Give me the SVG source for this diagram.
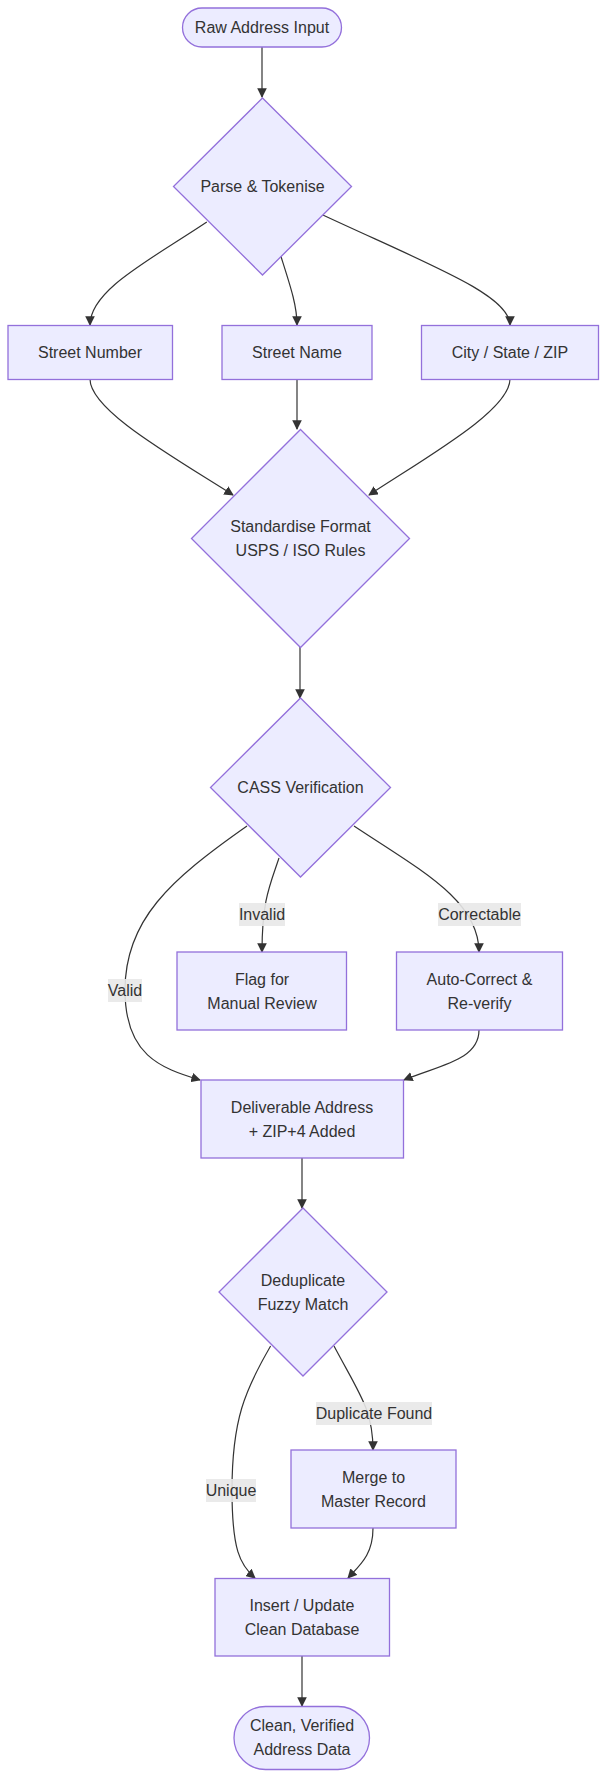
<svg xmlns="http://www.w3.org/2000/svg" width="606" height="1778" viewBox="0 0 606 1778">
<style>
.n{fill:#ECECFF;stroke:#9370DB;stroke-width:1.3}
.t{font-family:"Liberation Sans",Arial,sans-serif;font-size:16px;fill:#333;text-anchor:middle;dominant-baseline:central}
.e{fill:none;stroke:#333;stroke-width:1.2}
.lb{fill:#e8e8e8;opacity:0.9}
</style>
<defs><marker id="a" viewBox="0 0 10 10" refX="9" refY="5" markerWidth="8" markerHeight="8" orient="auto-start-reverse"><path d="M0,0L10,5L0,10z" fill="#333"/></marker></defs>
<rect width="606" height="1778" fill="#fff"/>
<g id="edges">
<path class="e" marker-end="url(#a)" d="M262,47L262,97"/>
<path class="e" marker-end="url(#a)" d="M206.8,222C150,260 90,290 90,325"/>
<path class="e" marker-end="url(#a)" d="M280.5,255C290,285 297,305 297,325"/>
<path class="e" marker-end="url(#a)" d="M320.7,214C430,265 510,295 510,325"/>
<path class="e" marker-end="url(#a)" d="M90,379C90,410 170,455 233,495"/>
<path class="e" marker-end="url(#a)" d="M297,379L297,429"/>
<path class="e" marker-end="url(#a)" d="M510,379C510,410 430,455 369,495"/>
<path class="e" marker-end="url(#a)" d="M300,647L300,698"/>
<path class="e" marker-end="url(#a)" d="M247,826C170,880 125,920 125,990C125,1055 160,1068 200,1080"/>
<path class="e" marker-end="url(#a)" d="M279,858C270,885 262,900 262,952"/>
<path class="e" marker-end="url(#a)" d="M354,826C420,870 479,900 479,952"/>
<path class="e" marker-end="url(#a)" d="M479,1030C479,1060 440,1065 404,1080"/>
<path class="e" marker-end="url(#a)" d="M302,1158L302,1208"/>
<path class="e" marker-end="url(#a)" d="M270.6,1346C245,1390 232,1420 232,1490C232,1550 240,1565 255,1578"/>
<path class="e" marker-end="url(#a)" d="M334,1346C360,1395 373,1410 373,1450"/>
<path class="e" marker-end="url(#a)" d="M373,1528C373,1555 360,1565 348,1578"/>
<path class="e" marker-end="url(#a)" d="M302,1656L302,1706"/>
<rect class="lb" x="239" y="903" width="46" height="23"/><text class="t" x="262" y="914">Invalid</text>
<rect class="lb" x="438" y="903" width="83" height="23"/><text class="t" x="479.5" y="914">Correctable</text>
<rect class="lb" x="108" y="979" width="34" height="23"/><text class="t" x="125" y="990">Valid</text>
<rect class="lb" x="316" y="1402" width="116" height="23"/><text class="t" x="374" y="1413">Duplicate Found</text>
<rect class="lb" x="206" y="1479" width="50" height="23"/><text class="t" x="231" y="1490">Unique</text>
</g>
<g id="start"><rect class="n" x="182.5" y="8" width="159" height="39" rx="19.5"/><text class="t" x="262" y="27.5">Raw Address Input</text></g>
<g id="parse"><path class="n" d="M262.5,98L351.5,186.5L262.5,275L173.5,186.5Z"/><text class="t" x="262.5" y="186.5">Parse &amp; Tokenise</text></g>
<g id="streetNumber"><rect class="n" x="8" y="325.5" width="164.5" height="54"/><text class="t" x="90" y="352.5">Street Number</text></g>
<g id="streetName"><rect class="n" x="222" y="325.5" width="150" height="54"/><text class="t" x="297" y="352.5">Street Name</text></g>
<g id="city"><rect class="n" x="421.5" y="325.5" width="177" height="54"/><text class="t" x="510" y="352.5">City / State / ZIP</text></g>
<g id="standardise"><path class="n" d="M300.5,429.5L409.5,538.5L300.5,647.5L191.5,538.5Z"/><text class="t" x="300.5" y="526">Standardise Format</text><text class="t" x="300.5" y="550">USPS / ISO Rules</text></g>
<g id="cass"><path class="n" d="M300.5,698L390.5,787.5L300.5,877L210.5,787.5Z"/><text class="t" x="300.5" y="787.5">CASS Verification</text></g>
<g id="flag"><rect class="n" x="177" y="952" width="169.5" height="78"/><text class="t" x="262" y="979">Flag for</text><text class="t" x="262" y="1003">Manual Review</text></g>
<g id="autocorrect"><rect class="n" x="396.5" y="952" width="166" height="78"/><text class="t" x="479.5" y="979">Auto-Correct &amp;</text><text class="t" x="479.5" y="1003">Re-verify</text></g>
<g id="deliverable"><rect class="n" x="201" y="1080" width="202.5" height="78"/><text class="t" x="302" y="1107">Deliverable Address</text><text class="t" x="302" y="1131">+ ZIP+4 Added</text></g>
<g id="dedup"><path class="n" d="M303,1208L387,1292L303,1376L219,1292Z"/><text class="t" x="303" y="1280">Deduplicate</text><text class="t" x="303" y="1304">Fuzzy Match</text></g>
<g id="merge"><rect class="n" x="291" y="1450" width="165" height="78"/><text class="t" x="373.5" y="1477">Merge to</text><text class="t" x="373.5" y="1501">Master Record</text></g>
<g id="insert"><rect class="n" x="215" y="1578.5" width="174.5" height="77.5"/><text class="t" x="302" y="1605">Insert / Update</text><text class="t" x="302" y="1629">Clean Database</text></g>
<g id="end"><rect class="n" x="234" y="1706.5" width="135.5" height="63" rx="31.5"/><text class="t" x="302" y="1725.5">Clean, Verified</text><text class="t" x="302" y="1749.5">Address Data</text></g>
</svg>
